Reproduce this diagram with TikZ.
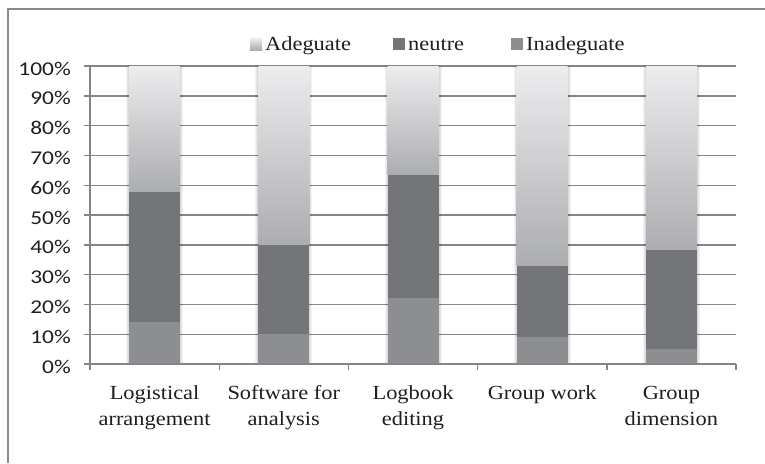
\documentclass[tikz,border=0pt]{standalone}
\usepackage{fontspec}
\setmainfont{Liberation Serif}[FakeStretch=1.12]
\newfontfamily\axisfont{Carlito}[FakeStretch=1.2]
\definecolor{gridc}{HTML}{858585}
\definecolor{framec}{HTML}{8A8A8A}
\definecolor{neutc}{HTML}{747578}
\definecolor{inadc}{HTML}{8D8E91}
\definecolor{adtop}{HTML}{EDEDEF}
\definecolor{adbot}{HTML}{ACADB0}
\definecolor{txt}{HTML}{1E1E1E}
\tikzset{
  gridline/.style={draw=gridc, line width=1.4pt},
  axisline/.style={draw=gridc, line width=1.4pt},
  ylab/.style={anchor=base east, inner sep=0pt, text=txt, font=\axisfont\fontsize{19.5}{22}\selectfont},
  catlab/.style={anchor=base, inner sep=0pt, text=txt, font=\fontsize{20}{24}\selectfont},
  leglab/.style={anchor=base west, inner sep=0pt, text=txt, font=\fontsize{20}{24}\selectfont},
}
\begin{document}
\begin{tikzpicture}[x=1pt,y=-1pt]
\useasboundingbox (0,0) rectangle (765,463);
% frame
\draw[draw=framec, line width=1.5pt] (8,463) -- (8,9) -- (765,9);
% gridlines
\foreach \k in {1,...,10}{
  \pgfmathsetmacro\yy{364-29.8*\k}
  \draw[gridline] (90,\yy) -- (736,\yy);
}
% bars
\foreach \i/\a/\b in {0/14/58, 1/10/40, 2/22/63.5, 3/9/33, 4/5/38.5}{
  \pgfmathsetmacro\cx{154.6+129.2*\i}
  \pgfmathsetmacro\xl{\cx-25.5}
  \pgfmathsetmacro\xr{\cx+25.5}
  \pgfmathsetmacro\ya{364-2.98*\a}
  \pgfmathsetmacro\yb{364-2.98*\b}
  \foreach \w in {2,4,6}{
    \fill[black, opacity=0.05] (\xl-\w/2,66) rectangle (\xr+\w/2,364);
  }
  \fill[inadc] (\xl,364) rectangle (\xr,\ya);
  \fill[neutc] (\xl,\ya) rectangle (\xr,\yb);
  \shade[top color=adtop, bottom color=adbot] (\xl,\yb) rectangle (\xr,66);
}
% axes
\draw[axisline] (90,66) -- (90,364) -- (736,364);
\foreach \k in {0,...,10}{
  \pgfmathsetmacro\yy{364-29.8*\k}
  \draw[axisline] (84,\yy) -- (90,\yy);
}
\foreach \k in {0,...,5}{
  \pgfmathsetmacro\xx{90+129.2*\k}
  \draw[axisline] (\xx,364) -- (\xx,370);
}
% y labels
\foreach \k in {0,...,10}{
  \pgfmathsetmacro\yy{364-29.8*\k+9}
  \pgfmathtruncatemacro\pc{10*\k}
  \node[ylab] (y\k) at (71,\yy) {\pc\%};
}
% category labels
\node[catlab] (c1a) at (154.6,399) {Logistical};
\node[catlab] (c1b) at (154.6,425) {arrangement};
\node[catlab] (c2a) at (283.8,399) {Software for};
\node[catlab] (c2b) at (283.8,425) {analysis};
\node[catlab] (c3a) at (413,399) {Logbook};
\node[catlab] (c3b) at (413,425) {editing};
\node[catlab] (c4a) at (542.2,399) {Group work};
\node[catlab] (c5a) at (671.4,399) {Group};
\node[catlab] (c5b) at (671.4,425) {dimension};
% legend
\shade[top color=adtop, bottom color=adbot] (250,38) rectangle (262,50);
\node[leglab] (l1) at (265,50) {Adeguate};
\fill[neutc] (393,38) rectangle (405,50);
\node[leglab] (l2) at (408,50) {neutre};
\fill[inadc] (511,38) rectangle (523,50);
\node[leglab] (l3) at (526,50) {Inadeguate};
\end{tikzpicture}
\end{document}
